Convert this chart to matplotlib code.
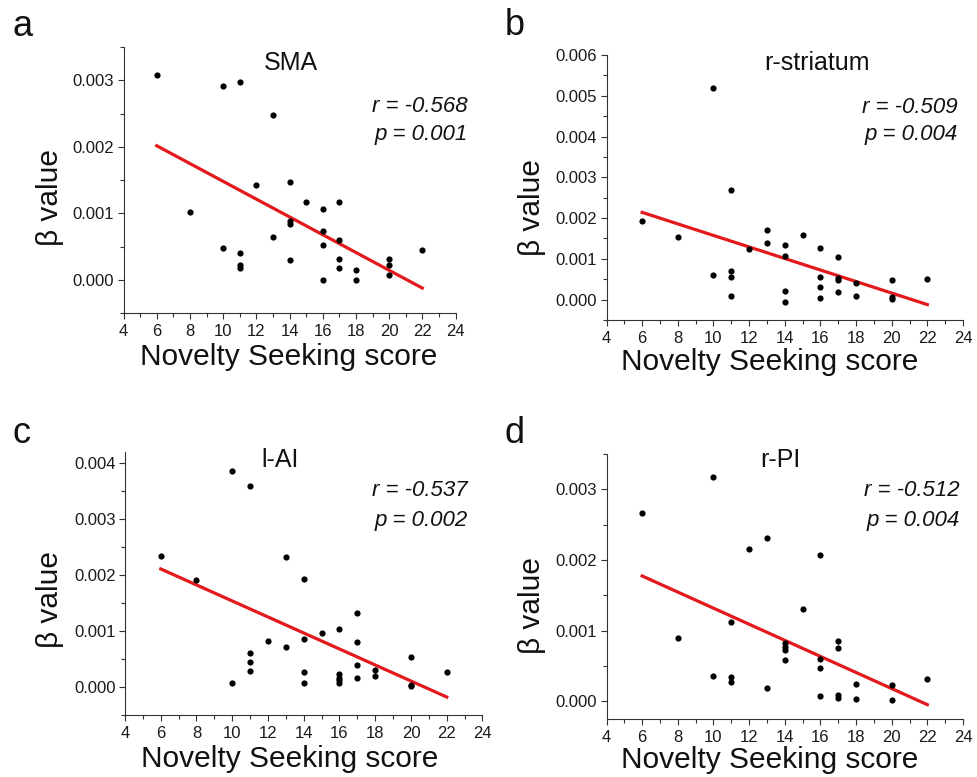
import matplotlib
matplotlib.use("Agg")
import matplotlib.pyplot as plt
import numpy as np
from matplotlib.ticker import MultipleLocator, FormatStrFormatter

plt.rcParams["font.family"] = ["Liberation Sans", "DejaVu Sans"]

# beta values are written in units of 1e-3
SCALE = 1e-3

sma_x = [6, 8, 10, 10, 11, 11, 11, 11, 12, 13, 13, 14, 14, 14, 14, 15,
         16, 16, 16, 16, 17, 17, 17, 17, 18, 18, 20, 20, 20, 22]
sma_y = [3.08, 1.02, 2.92, 0.48, 2.98, 0.40, 0.22, 0.18, 1.42, 2.48, 0.65,
         1.47, 0.89, 0.84, 0.30, 1.17, 1.06, 0.73, 0.53, -0.01, 1.17, 0.60,
         0.31, 0.17, 0.15, 0.00, 0.31, 0.22, 0.07, 0.45]
sma_fit = [2.015, -0.125]

stri_x = [6, 8, 10, 10, 11, 11, 11, 11, 12, 13, 13, 14, 14, 14, 14, 15,
          16, 16, 16, 16, 17, 17, 17, 17, 18, 18, 20, 20, 20, 22]
stri_y = [1.94, 1.54, 5.20, 0.61, 2.70, 0.70, 0.55, 0.10, 1.24, 1.71, 1.40,
          1.34, 1.06, 0.20, -0.07, 1.58, 1.27, 0.55, 0.32, 0.04, 1.05, 0.52,
          0.47, 0.19, 0.41, 0.10, 0.47, 0.07, 0.02, 0.51]
stri_fit = [2.14, -0.122]

ai_x = [6, 8, 10, 10, 11, 11, 11, 11, 12, 13, 13, 14, 14, 14, 14, 15,
        16, 16, 16, 16, 16, 17, 17, 17, 17, 18, 18, 20, 20, 20, 22]
ai_y = [2.34, 1.91, 3.86, 0.07, 3.59, 0.61, 0.44, 0.29, 0.83, 2.32, 0.71,
        1.93, 0.85, 0.27, 0.08, 0.97, 1.04, 0.24, 0.17, 0.12, 0.07, 1.32,
        0.80, 0.40, 0.16, 0.31, 0.19, 0.54, 0.04, 0.01, 0.26]
ai_fit = [2.11, -0.179]

pi_x = [6, 8, 10, 10, 11, 11, 11, 12, 13, 13, 14, 14, 14, 14, 15,
        16, 16, 16, 16, 17, 17, 17, 17, 18, 18, 20, 20, 22]
pi_y = [2.66, 0.90, 3.18, 0.36, 1.12, 0.35, 0.28, 2.15, 2.31, 0.19, 0.82,
        0.77, 0.73, 0.59, 1.30, 2.07, 0.60, 0.47, 0.07, 0.85, 0.76, 0.09,
        0.05, 0.24, 0.04, 0.23, 0.02, 0.32]
pi_fit = [1.774, -0.047]

fit_x = [6, 22]

letters = ["a", "b", "c", "d"]
regions = ["SMA", "r-striatum", "l-AI", "r-PI"]
r_values = ["-0.568", "-0.509", "-0.537", "-0.512"]
p_values = ["0.001", "0.004", "0.002", "0.004"]
ylims = [(-0.5, 3.5), (-0.5, 6.0), (-0.5, 4.2), (-0.25, 3.5)]

W, H = 978, 777

# layout in pixels: axes box (left, top, right, bottom)
boxes = [(123.5, 47, 455.5, 313), (606.5, 55, 963, 320),
         (125, 452, 482.5, 715), (606.5, 454, 963, 719)]
letter_pos = [(13, 36), (505, 35), (13, 443), (505, 443)]
title_pos = [(291, 70), (817, 70), (280, 467), (780, 467)]
r_pos = [(468, 112, 140), (958, 113, 140), (468, 496, 526), (960, 496, 526)]
ylabel_pos = [(50, 197), (532, 207), (50, 600), (532, 605)]
xlabel_pos = [(289, 365), (770, 370), (290, 767), (770, 768)]


def fx(x):
    return x / W


def fy(y):
    return 1 - y / H


fig = plt.figure(figsize=(W / 100, H / 100), dpi=100)

data = [(sma_x, sma_y, sma_fit), (stri_x, stri_y, stri_fit),
        (ai_x, ai_y, ai_fit), (pi_x, pi_y, pi_fit)]

for i, (xs, ys, fit) in enumerate(data):
    l, t, r, b = boxes[i]
    ax = fig.add_axes([fx(l), fy(b), (r - l) / W, (b - t) / H])

    ax.scatter(xs, np.array(ys) * SCALE, s=20, color="black", zorder=3,
               linewidths=0)
    ax.plot(fit_x, np.array(fit) * SCALE, color="#e3191c", lw=2.3, zorder=2)

    ax.set_xlim(4, 24)
    ax.set_ylim(ylims[i][0] * SCALE, ylims[i][1] * SCALE)
    ax.xaxis.set_major_locator(MultipleLocator(2))
    ax.xaxis.set_minor_locator(MultipleLocator(1))
    ax.yaxis.set_major_locator(MultipleLocator(0.001))
    ax.yaxis.set_minor_locator(MultipleLocator(0.0005))
    ax.yaxis.set_major_formatter(FormatStrFormatter("%.3f"))

    for side in ["top", "right"]:
        ax.spines[side].set_visible(False)
    for side in ["left", "bottom"]:
        ax.spines[side].set_color("#333333")
        ax.spines[side].set_linewidth(0.8)
    ax.tick_params(which="major", direction="out", length=4.3, width=0.8,
                   color="#333333", labelsize=12, labelcolor="#1a1a1a")
    ax.tick_params(which="minor", direction="out", length=2.6, width=0.8,
                   color="#333333")
    ax.tick_params(axis="x", pad=3.5)
    ax.tick_params(axis="y", pad=2.5)

    # axis labels placed in figure pixels
    ax.set_xlabel("Novelty Seeking score", fontsize=21.5, color="#111111")
    ax.xaxis.label.set(ha="center", va="baseline")
    ax.xaxis.set_label_coords(fx(xlabel_pos[i][0]), fy(xlabel_pos[i][1]),
                              transform=fig.transFigure)
    ax.set_ylabel("β value", fontsize=21.5, color="#111111")
    ax.yaxis.label.set(ha="center", va="center", rotation_mode="default")
    ax.yaxis.set_label_coords(fx(ylabel_pos[i][0]), fy(ylabel_pos[i][1]),
                              transform=fig.transFigure)

    fig.text(fx(letter_pos[i][0]), fy(letter_pos[i][1]), letters[i],
             fontsize=26, ha="left", va="baseline", color="#111111")
    fig.text(fx(title_pos[i][0]), fy(title_pos[i][1]), regions[i],
             fontsize=18, ha="center", va="baseline", color="#111111")
    rx, ry, py = r_pos[i]
    fig.text(fx(rx), fy(ry), f"r = {r_values[i]}", fontsize=16,
             style="italic", ha="right", va="baseline", color="#111111")
    fig.text(fx(rx), fy(py), f"p = {p_values[i]}", fontsize=16,
             style="italic", ha="right", va="baseline", color="#111111")

fig.savefig("out.png", dpi=100)
plt.close(fig)
